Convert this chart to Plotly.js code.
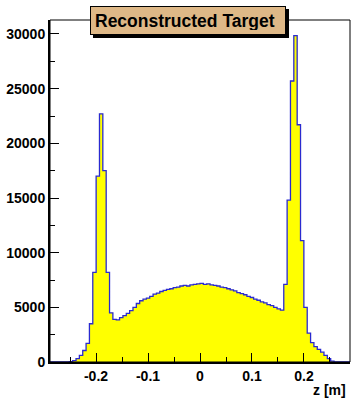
<!DOCTYPE html>
<html>
<head>
<meta charset="utf-8">
<script src="https://cdn.plot.ly/plotly-3.0.1.min.js"></script>
<style>
  html, body { margin: 0; padding: 0; background: #ffffff; }
  #chart { width: 352px; height: 398px; }
</style>
</head>
<body>
<div id="chart"></div>
<script>
// Histogram binning of the reconstructed target position z (metres)
const zLow = -0.29;
const zHigh = 0.29;

// Entries per bin, left to right
const counts = [
  0, 0, 0, 0, 0, 0, 40, 120, 300, 600,
  1050, 1700, 3500, 8200, 17000, 22700, 17500, 8200, 4500, 3900,
  3850, 4050, 4250, 4450, 4700, 5000, 5350, 5600, 5750, 5850,
  6000, 6200, 6300, 6450, 6550, 6650, 6700, 6800, 6850, 6950,
  7000, 6950, 7050, 7100, 7150, 7200, 7100, 7150, 7050, 7000,
  6950, 6850, 6800, 6700, 6600, 6500, 6350, 6250, 6150, 6000,
  5900, 5750, 5650, 5500, 5400, 5250, 5150, 5000, 4850, 4750,
  7100, 14800, 25700, 29850, 21700, 11100, 5000, 2650, 1770, 1400,
  1150, 900, 600, 300, 80, 0, 0, 0, 0, 0
];

// Axis ticks
const xTickVals = [-0.2, -0.1, 0, 0.1, 0.2];
const xTickText = ['-0.2', '-0.1', '0', '0.1', '0.2'];
const yTickVals = [0, 5000, 10000, 15000, 20000, 25000, 30000];
const yTickText = ['0', '5000', '10000', '15000', '20000', '25000', '30000'];

const titleText = 'Reconstructed Target';
const xTitleText = 'z [m]';

// Build the step outline from the bin edges
const nBins = counts.length;
const binWidth = (zHigh - zLow) / nBins;
const edges = counts.map((_, i) => zLow + i * binWidth).concat([zHigh]);
const stepY = counts.concat([counts[nBins - 1]]);

const fontFamily = 'Liberation Sans, Arial, Helvetica, sans-serif';
const labelFont = { family: fontFamily, size: 14, color: '#000000', weight: 'bold' };

const trace = {
  type: 'scatter',
  mode: 'lines',
  x: edges,
  y: stepY,
  line: { shape: 'hv', color: '#2a2ad0', width: 1.3 },
  fill: 'tozeroy',
  fillcolor: '#ffff00',
  hoverinfo: 'skip'
};

const layout = {
  width: 352,
  height: 398,
  margin: { l: 50, r: 2, t: 20, b: 36 },
  paper_bgcolor: '#ffffff',
  plot_bgcolor: '#ffffff',
  showlegend: false,
  xaxis: {
    range: [-0.2885, 0.2885],
    tickvals: xTickVals,
    ticktext: xTickText,
    ticks: 'inside',
    ticklen: 9,
    tickwidth: 1,
    tickcolor: '#000000',
    minor: { ticks: 'inside', ticklen: 5, dtick: 0.05, tick0: 0, tickcolor: '#000000', showgrid: false },
    showgrid: false,
    zeroline: false,
    showline: true,
    linecolor: '#000000',
    linewidth: 2,
    tickfont: labelFont
  },
  yaxis: {
    range: [0, 31280],
    tickvals: yTickVals,
    ticktext: yTickText,
    ticks: 'inside',
    ticklen: 9,
    tickwidth: 1,
    tickcolor: '#000000',
    minor: { ticks: 'inside', ticklen: 5, dtick: 2500, tick0: 0, tickcolor: '#000000', showgrid: false },
    showgrid: false,
    zeroline: false,
    showline: true,
    linecolor: '#000000',
    linewidth: 2,
    tickfont: labelFont
  },
  shapes: [
    // thin frame round the plot area
    {
      type: 'rect', xref: 'paper', yref: 'paper',
      x0: 0, x1: 1, y0: 0, y1: 1,
      line: { color: '#000000', width: 1 },
      fillcolor: 'rgba(0,0,0,0)',
      layer: 'above'
    },
    // drop shadow of the title box
    {
      type: 'rect', xref: 'paper', yref: 'paper',
      x0: 0.1433, x1: 0.7967, y0: 0.9474, y1: 1.0322,
      line: { width: 0 },
      fillcolor: '#000000',
      layer: 'above'
    }
  ],
  annotations: [
    {
      xref: 'paper', yref: 'paper', x: 0.46, y: 0.9985,
      xanchor: 'center', yanchor: 'middle',
      width: 186, height: 19, align: 'left',
      text: titleText, showarrow: false,
      font: { family: fontFamily, size: 17.5, color: '#000000', weight: 'bold' },
      bgcolor: '#deb887', bordercolor: '#000000', borderwidth: 1, borderpad: 4
    },
    {
      xref: 'paper', yref: 'paper', x: 0.993, y: -0.082,
      xanchor: 'right', yanchor: 'middle',
      text: xTitleText, showarrow: false,
      font: { family: fontFamily, size: 14, color: '#000000', weight: 'bold' }
    }
  ]
};

Plotly.newPlot('chart', [trace], layout, { displayModeBar: false, staticPlot: true });
</script>
</body>
</html>
